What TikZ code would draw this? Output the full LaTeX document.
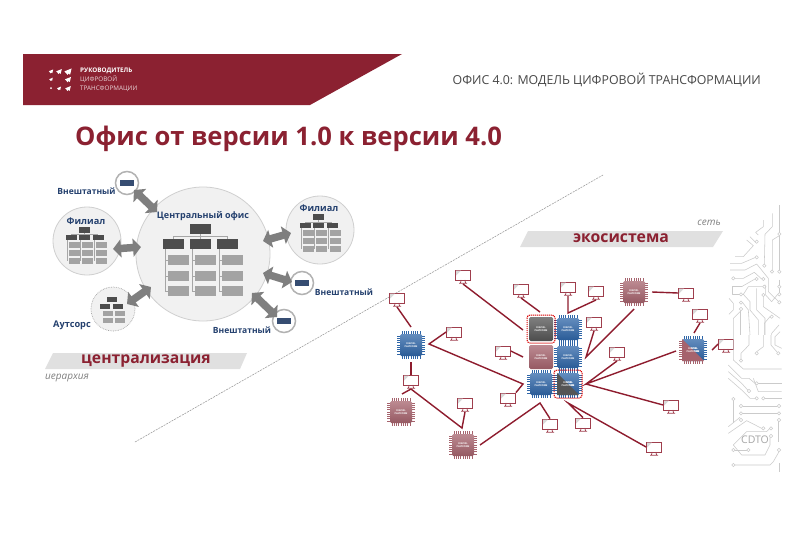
\documentclass[tikz,border=0pt]{standalone}
\usepackage{fontspec}
\setmainfont{Open Sans}
\usetikzlibrary{arrows.meta,calc}
\definecolor{brand}{HTML}{8B2131}
\definecolor{linkred}{HTML}{8E1C2E}
\definecolor{navy}{HTML}{24406E}
\definecolor{dbox}{HTML}{4D4D4D}
\definecolor{gbox}{HTML}{A3A3A3}
\definecolor{circfill}{HTML}{F1F1F1}
\definecolor{circline}{HTML}{CFCFCF}
\definecolor{trace}{HTML}{CBCBCB}
\definecolor{chipblue}{HTML}{2F66A8}
\definecolor{chipred}{HTML}{A6636D}
\definecolor{chipgray}{HTML}{555555}
\definecolor{arrowgray}{HTML}{7F7F7F}
\tikzset{
  link/.style={draw=linkred,line width=1.4pt},
  bigarrow/.style={draw=arrowgray,{Triangle[length=8pt,width=18pt,fill=arrowgray]}-{Triangle[length=8pt,width=18pt,fill=arrowgray]},line width=7.5pt},
  dbx/.style={fill=dbox,draw=none,inner sep=0pt},
  gbx/.style={fill=gbox,draw=none,inner sep=0pt},
  orgline/.style={draw=gray!70,line width=.5pt},
  lab/.style={font=\bfseries\fontsize{8.5}{10}\selectfont,text=navy,inner sep=0pt},
  mon/.style={draw=linkred!85!white,line width=.8pt,fill=white,minimum width=15pt,minimum height=10pt,inner sep=0pt},
  chiplabel/.style={font=\bfseries\fontsize{2.4}{3}\selectfont,text=white,align=center,inner sep=0pt},
  tr/.style={draw=trace,line width=.55pt,line join=round},
  pad/.style={draw=trace,line width=.55pt,fill=white},
  dashred/.style={draw=red!85!black,dash pattern=on 1.2pt off .8pt,line width=1pt,rounded corners=3pt}
}
\newcommand{\mymon}[3]{%
  \node[mon] (#1) at (#2,#3) {};
  \fill[gray!30] (#2-7,#3-4.5) -- (#2-2,#3-4.5) -- (#2-7,#3+.5) -- cycle;
  \draw[linkred!85!white,line width=.7pt] (#2-1.8,#3+5) -- (#2-2.6,#3+8) (#2+1.8,#3+5) -- (#2+2.6,#3+8) (#2-4,#3+8.3) -- (#2+4,#3+8.3);
  \coordinate (#1-b) at (#2,#3+9);
}
\newcommand{\mypins}[3]{%
  \foreach \o in {-9,-6.75,-4.5,-2.25,0,2.25,4.5,6.75,9}{
    \draw[#3,line width=.55pt] (#1+\o,#2-14) -- (#1+\o,#2+14) (#1-14,#2+\o) -- (#1+14,#2+\o);
  }
}
\newcommand{\mychip}[4]{%
  \mypins{#2}{#3}{#4}
  \node[minimum size=22pt,rounded corners=1.5pt,inner sep=0pt,top color=#4!75!white,bottom color=#4!90!black,chiplabel] (#1) at (#2,#3) {DIGITAL\\[-.3pt]PLATFORM};
}
\newcommand{\mychipnp}[4]{%
  \node[minimum size=24pt,rounded corners=1.5pt,inner sep=0pt,top color=#4!75!white,bottom color=#4!90!black,chiplabel] (#1) at (#2,#3) {DIGITAL\\[-.3pt]PLATFORM};
}
\newcommand{\mylogo}[3]{%
  \fill[white] (#1-#3,#2+#3*.1) -- (#1+#3,#2-#3*.7) -- (#1+#3*.6,#2+#3) -- (#1,#2+#3*.7) -- (#1-#3*.1,#2+#3*1.1) -- cycle;
}
\begin{document}
\begin{tikzpicture}[x=1pt,y=-1pt]
\useasboundingbox (0,0) rectangle (800,533);
\fill[white] (0,0) rectangle (800,533);

% header
\fill[brand] (23,54) -- (402,54) -- (310,105) -- (23,105) -- cycle;
\mylogo{51}{71}{2.2}\mylogo{59}{71}{2.8}\mylogo{68}{71}{3.6}
\mylogo{51}{79}{1.8}\mylogo{68}{79}{3}
\fill[white] (51,88) circle (1);\mylogo{59}{88}{2}\mylogo{68}{88}{2.8}
\node[anchor=west,inner sep=0pt,text=white,font=\bfseries\fontsize{6.3}{7}\selectfont] (lg1) at (80,70.5) {РУКОВОДИТЕЛЬ};
\node[anchor=west,inner sep=0pt,text=white!80!brand,font=\fontsize{6.3}{7}\selectfont] (lg2) at (80,79.5) {ЦИФРОВОЙ};
\node[anchor=west,inner sep=0pt,text=white!80!brand,font=\fontsize{6.3}{7}\selectfont] (lg3) at (80,88.5) {ТРАНСФОРМАЦИИ};
\node[anchor=east,inner sep=0pt,text=black!72,font=\fontsize{12.35}{14}\selectfont] (hd) at (761,80) {ОФИС 4.0: МОДЕЛЬ ЦИФРОВОЙ ТРАНСФОРМАЦИИ};
\node[anchor=west,inner sep=0pt,text=brand,font=\bfseries\fontsize{25.6}{28}\selectfont] (ttl) at (75,139) {Офис от версии 1.0 к версии 4.0};

% diagonal
\coordinate (dg1) at (135,442);
\coordinate (dg2) at (603,175);
\draw[gray!80,line width=.55pt,dash pattern=on 2pt off 1pt] (dg1) -- (dg2);

% bands
\fill[black!12] (53,353) -- (247,353) -- (240,369) -- (45,369) -- cycle;
\node[inner sep=0pt,text=brand,font=\bfseries\fontsize{15.7}{17}\selectfont] (cz) at (146,361) {централизация};
\node[anchor=west,inner sep=0pt,text=gray,font=\itshape\fontsize{10}{11}\selectfont] (ie) at (45,378) {иерархия};
\fill[black!12] (528,231) -- (723,231) -- (713,247) -- (520,247) -- cycle;
\node[inner sep=0pt,text=brand,font=\bfseries\fontsize{15.8}{17}\selectfont] (ec) at (621,238.5) {экосистема};
\node[anchor=east,inner sep=0pt,text=gray,font=\itshape\fontsize{10}{11}\selectfont] (se) at (721,223) {сеть};

% circles
\node[circle,fill=circfill,draw=circline,line width=.8pt,minimum size=134pt,inner sep=0pt] (co) at (203,254) {};
\node[circle,fill=circfill,draw=circline,line width=.8pt,minimum size=68pt,inner sep=0pt] (fl) at (87,241) {};
\node[circle,fill=circfill,draw=circline,line width=.8pt,minimum size=68pt,inner sep=0pt] (fr) at (320,230) {};
\node[circle,fill=circfill,draw=black!35,line width=.7pt,densely dotted,minimum size=44pt,inner sep=0pt] (au) at (113,309) {};
\node[circle,fill=white,draw=black!30,line width=1.5pt,minimum size=23pt,inner sep=0pt] (v1) at (127,183) {};
\node[circle,fill=white,draw=black!30,line width=1.5pt,minimum size=23pt,inner sep=0pt] (v2) at (302,283) {};
\node[circle,fill=white,draw=black!30,line width=1.5pt,minimum size=23pt,inner sep=0pt] (v3) at (284,321) {};
\foreach \n/\xx/\yy in {1/127/183,2/302/283,3/284/321}{
  \node[fill=navy!80!gray,inner sep=0pt,minimum width=14pt,minimum height=6.5pt] (vb\n) at (\xx,\yy) {};
}

% arrows
\coordinate (a1s) at (134,190);\coordinate (a1e) at (157,212);
\coordinate (a2s) at (113,249);\coordinate (a2e) at (141,247);
\coordinate (a3s) at (127,304);\coordinate (a3e) at (151,287);
\coordinate (a4s) at (263,241);\coordinate (a4e) at (291,233);
\coordinate (a5s) at (263,273);\coordinate (a5e) at (292,282);
\coordinate (a6s) at (252,293);\coordinate (a6e) at (277,317);
\foreach \n in {1,...,6}{ \draw[bigarrow] (a\n s) -- (a\n e); }

% central org chart
\node[dbx,minimum width=21pt,minimum height=10pt] (c0) at (200,229) {};
\draw[orgline] (c0.south) -- (200,236) (173,236) -- (227,236);
\foreach \n/\xx in {1/173,2/200,3/227}{
  \draw[orgline] (\xx,236) -- (\xx,240);
  \node[dbx,minimum width=21pt,minimum height=10pt] (c\n) at (\xx,244) {};
  \draw[orgline] (\xx-8,249) -- (\xx-8,291);
  \foreach \yy in {260,276,291}{
    \draw[orgline] (\xx-8,\yy) -- (\xx-5,\yy);
    \node[gbx,minimum width=21pt,minimum height=10pt] (c\n-\yy) at (\xx+5,\yy) {};
  }
}
% left branch
\node[dbx,minimum width=11pt,minimum height=5.5pt] (l0) at (84,230) {};
\draw[orgline] (l0.south) -- (84,234) (71,234) -- (98,234);
\foreach \n/\xx in {1/71,2/84,3/98}{
  \node[dbx,minimum width=11pt,minimum height=5.5pt] (l\n) at (\xx,237.5) {};
  \draw[orgline] (\xx-4,240) -- (\xx-4,261);
  \foreach \yy in {245,253,261}{
    \node[gbx,minimum width=11pt,minimum height=5.5pt] (l\n-\yy) at (\xx+3,\yy) {};
  }
}
% right branch
\node[dbx,minimum width=11pt,minimum height=5.5pt] (r0) at (318,217) {};
\draw[orgline] (r0.south) -- (318,222) (305,222) -- (332,222);
\foreach \n/\xx in {1/305,2/318,3/332}{
  \node[dbx,minimum width=11pt,minimum height=5.5pt] (r\n) at (\xx,225.5) {};
  \draw[orgline] (\xx-4,228) -- (\xx-4,249);
  \foreach \yy in {233,241,249}{
    \node[gbx,minimum width=11pt,minimum height=5.5pt] (r\n-\yy) at (\xx+3,\yy) {};
  }
}
% outsource
\node[dbx,minimum width=10pt,minimum height=5pt] (o0) at (112,299) {};
\node[dbx,minimum width=10pt,minimum height=5pt] (o1) at (105,306) {};
\node[dbx,minimum width=10pt,minimum height=5pt] (o2) at (118,306) {};
\node[gbx,minimum width=10pt,minimum height=5pt] (o3) at (108,313) {};
\node[gbx,minimum width=10pt,minimum height=5pt] (o4) at (120,313) {};
\node[gbx,minimum width=10pt,minimum height=5pt] (o5) at (108,320) {};
\node[gbx,minimum width=10pt,minimum height=5pt] (o6) at (120,320) {};

% labels
\node[lab] (t1) at (86.5,191) {Внештатный};
\node[lab,font=\bfseries\fontsize{9.2}{11}\selectfont] (t2) at (86,221) {Филиал};
\node[lab,font=\bfseries\fontsize{9}{11}\selectfont] (t3) at (203,216) {Центральный офис};
\node[lab,font=\bfseries\fontsize{9.2}{11}\selectfont] (t4) at (319,208) {Филиал};
\node[lab] (t5) at (344,292) {Внештатный};
\node[lab] (t6) at (242,330) {Внештатный};
\node[lab,font=\bfseries\fontsize{9.2}{11}\selectfont] (t7) at (72,325) {Аутсорс};

% monitors
\mymon{m1}{397}{298}
\mymon{m2}{463}{275}
\mymon{m3}{521}{289}
\mymon{m4}{454}{332}
\mymon{m5}{503}{351}
\mymon{m6}{411}{380}
\mymon{m7}{508}{398}
\mymon{m8}{465}{403}
\mymon{m10}{568}{287}
\mymon{m11}{596}{291}
\mymon{m12}{594}{322}
\mymon{m13}{617}{352}
\mymon{m14}{550}{424}
\mymon{m15}{583}{423}
\mymon{m17}{686}{293}
\mymon{m18}{700}{314}
\mymon{m19}{726}{344}
\mymon{m21}{671}{405}
\mymon{m22}{654}{447}

% chips
\mychip{ca}{411}{345}{chipblue}
\mychip{cb}{401}{412}{chipred}
\mychip{cc}{463}{445}{chipred}
\mychip{cd}{634}{292}{chipred}
\mychip{g2}{568}{329}{chipblue}
\mychip{g4}{568}{357}{chipblue}
\mychip{g5}{541}{384}{chipblue}
\mychipnp{g1}{541}{329}{chipgray}
\mychipnp{g3}{541}{357}{chipred}
% split chips
\mychip{g6}{568}{384}{chipblue}
\fill[chipgray] (557,373) -- (579,395) -- (557,395) -- cycle;
\node[chiplabel] (g6t) at (568,384) {DIGITAL\\[-.3pt]PLATFORM};
\mychip{ce}{693}{350}{chipblue}
\fill[chipred] (682,339) -- (704,361) -- (682,361) -- cycle;
\foreach \o in {-9,-6.75,-4.5,-2.25,0,2.25,4.5,6.75,9}{
  \draw[chipred,line width=.55pt] (679,350+\o) -- (682,350+\o);
}
\foreach \o in {-9,-6.75,-4.5,-2.25,0,2.25,4.5,6.75,9}{
  \draw[chipred,line width=.55pt] (693+\o,361) -- (693+\o,364);
}
\node[chiplabel] (cet) at (693,350) {DIGITAL\\[-.3pt]PLATFORM};
\draw[dashred] (527,315) rectangle (555,343);
\draw[dashred] (554,370) rectangle (582,398);

% connector points
\coordinate (pa) at (429,344);
\coordinate (pb) at (523,384);
\coordinate (pc) at (540,403);
\coordinate (pd) at (568,313);
\coordinate (pe) at (586,357);
\coordinate (pf) at (586,384);
\coordinate (pg) at (568,403);
\coordinate (ph) at (462,428);
\coordinate (pi) at (523,330);
\coordinate (pj) at (540,312);
\coordinate (pk) at (523,357);
\coordinate (pl) at (402,394);
\coordinate (pm) at (411,362);
\coordinate (pn) at (411,327);
\coordinate (po) at (480,445);
\coordinate (pp) at (634,309);
\coordinate (pq) at (676,351);
\coordinate (pr) at (652,292);
\coordinate (ps) at (694,333);
\coordinate (pt) at (712,350);

\draw[link] (m1-b) -- (pn);
\draw[link] (m2-b) -- (pi);
\draw[link] (m3-b) -- (pj);
\draw[link] (m4.west) -- (pa) -- (pb) -- (m7.north east);
\draw[link] (pm) -- (m6.north);
\draw[link] (m6-b) -- (pl);
\draw[link] (m6-b) -- (ph) -- (m8-b);
\draw[link] (po) -- (pc) -- (m14.north);
\draw[link] (m5.east) -- (pk);
\draw[link] (m10-b) -- (pd) -- (m11-b);
\draw[link] (m12-b) -- (pe) -- (pp);
\draw[link] (m13-b) -- (pf) -- (pq);
\draw[link] (pf) -- (m21.west);
\draw[link] (m15.north) -- (pg) -- (m22.west);
\draw[link] (pr) -- (m17.west);
\draw[link] (m18-b) -- (ps);
\draw[link] (pt) -- (m19.west);

% circuit upper
\begin{scope}[shift={(725,195)},x=.3333pt,y=-.3333pt]
\draw[tr] (142,55) -- (142,95) -- (120,118) -- (118,207);
\draw[tr] (163,30) -- (163,112);
\draw[tr] (163,122) -- (142,135) -- (142,225);
\draw[tr] (163,122) -- (163,225);
\draw[tr] (115,75) -- (115,95) -- (92,112) -- (100,120);
\draw[tr] (75,125) -- (92,142);
\draw[tr] (65,135) -- (85,152) -- (55,185) -- (30,185);
\draw[tr] (15,205) -- (50,205) -- (92,187);
\draw[tr] (15,225) -- (60,225) -- (95,207) -- (130,250) -- (130,290) -- (163,322);
\draw[tr] (30,250) -- (55,250) -- (88,232) -- (110,252);
\draw[tr] (50,275) -- (22,275) -- (22,298) -- (43,298);
\draw[tr] (50,275) -- (90,252);
\draw[tr] (113,275) -- (70,275) -- (55,298) -- (75,320) -- (75,345) -- (100,375) -- (100,420);
\draw[tr] (12,310) -- (25,325) -- (25,345) -- (12,358);
\draw[tr] (53,323) -- (70,345) -- (75,420);
\draw[tr] (95,280) -- (95,345) -- (120,370) -- (120,420);
\draw[tr] (115,305) -- (115,335) -- (165,370);
\draw[tr] (158,298) -- (140,320) -- (122,300) -- (122,270);
\draw[tr] (48,347) -- (25,370) -- (25,420);
\draw[tr] (47,347) -- (47,420);
\draw[tr] (163,255) -- (163,270);
\draw[tr] (163,280) -- (163,293);
\draw[tr] (135,365) -- (118,385) -- (118,420);
\draw[tr] (162,390) -- (140,415) -- (140,420);
\foreach \p in {(163,117),(118,212),(141,230),(163,230),(95,140),(95,187),(25,250),(115,252),(95,252),(48,298),(118,275),(48,323),(115,300),(163,298),(163,275),(163,322),(48,342),(140,365)}{
  \draw[pad] \p circle (5);
}
\end{scope}
% circuit lower
\begin{scope}[shift={(725,330)},x=.3333pt,y=-.3333pt]
\draw[tr] (25,15) -- (25,90) -- (55,117) -- (170,117);
\draw[tr] (48,87) -- (48,70) -- (72,45) -- (72,15);
\draw[tr] (95,65) -- (115,50) -- (115,15);
\draw[tr] (156,66) -- (138,45) -- (138,15);
\draw[tr] (165,5) -- (150,20) -- (150,45) -- (170,55);
\draw[tr] (10,105) -- (50,145) -- (72,145) -- (90,160);
\draw[tr] (100,160) -- (170,160);
\draw[tr] (10,125) -- (50,160) -- (68,180);
\draw[tr] (85,145) -- (100,185) -- (170,185);
\draw[tr] (10,145) -- (50,180) -- (75,205) -- (90,205);
\draw[tr] (120,205) -- (170,205);
\draw[tr] (25,212) -- (25,280);
\draw[tr] (53,228) -- (157,228);
\draw[tr] (53,250) -- (157,250);
\draw[tr] (10,290) -- (45,262);
\draw[tr] (10,310) -- (65,272) -- (110,295);
\draw[tr] (25,345) -- (65,305) -- (125,305) -- (135,295);
\draw[tr] (25,345) -- (50,375) -- (120,375) -- (135,345) -- (135,322);
\draw[tr] (30,360) -- (65,360);
\draw[tr] (160,268) -- (160,335);
\draw[tr] (162,365) -- (145,395) -- (135,405) -- (30,405);
\draw[tr] (162,425) -- (162,400);
\foreach \p in {(48,92),(95,70),(160,70),(95,160),(72,183),(95,205),(115,205),(25,207),(48,228),(162,228),(48,250),(162,250),(48,270),(162,270),(115,295),(138,295),(138,318),(25,360),(70,360),(162,360),(25,405)}{
  \draw[pad] \p circle (5);
}
\node[inner sep=0pt,text=black!35,font=\fontsize{10.5}{12}\selectfont] (cdto) at (90,330) {CDTO};
\end{scope}
\end{tikzpicture}
\end{document}
